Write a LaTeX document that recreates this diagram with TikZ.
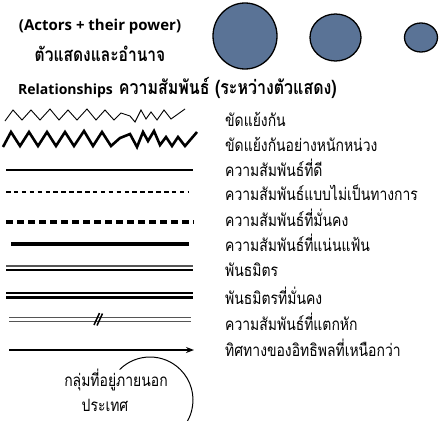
\documentclass[tikz,border=0pt]{standalone}
\usepackage{fontspec}
\setmainfont{Open Sans}
\newfontfamily\thai[Script=Thai,FakeStretch=0.82]{Loma}
\usetikzlibrary{arrows.meta,shapes.geometric}
\definecolor{actorblue}{HTML}{5A7396}
\definecolor{dgray}{HTML}{555555}
\begin{document}
\begin{tikzpicture}[x=1pt,y=-1pt,
  lbl/.style={anchor=west, inner sep=0pt, font=\thai\fontsize{17}{19}\selectfont},
  hdr/.style={inner sep=0pt, font=\bfseries\fontsize{15}{16}\selectfont},
  thhdr/.style={inner sep=0pt, font=\thai\bfseries\fontsize{19}{21}\selectfont},
  actor/.style={draw=black, line width=1.3pt, fill=actorblue, inner sep=0pt, ellipse},
  thinzz/.style={line width=0.9pt, line join=miter},
  thickzz/.style={line width=2.6pt, line join=miter},
  sample/.style={line width=1.2pt}]
\useasboundingbox (0,0) rectangle (441,420);
\fill[white] (0,0) rectangle (441,420);

% headers
\node[hdr] (h1) at (100,27) {(Actors + their power)};
\node[thhdr] (h2) at (100,54) {ตัวแสดงและอำนาจ};
\node[anchor=west, inner sep=0pt] (h3) at (18,88) {{\bfseries\fontsize{14}{15}\selectfont Relationships}\hspace{6pt}{\thai\bfseries\fontsize{19.5}{21}\selectfont ความสัมพันธ์ (ระหว่างตัวแสดง)}};

% actors
\node[actor, minimum width=64pt, minimum height=66pt] (a1) at (245,36) {};
\node[actor, minimum width=51pt, minimum height=47pt] (a2) at (335.5,37.5) {};
\node[actor, minimum width=33pt, minimum height=29pt] (a3) at (421,37.5) {};

% 1 thin zigzag
\draw[thinzz] (5,121) -- (13,110) -- (22,120) -- (31,110) -- (40,120) -- (50,109) -- (59,120) -- (68,110) -- (77,120) -- (87,109) -- (96,120) -- (105,110) -- (114,120) -- (121,113) -- (130,116) -- (135,122) -- (141,110) -- (146,119) -- (151,112) -- (157,120) -- (164,110) -- (171,119) -- (178,114) -- (185,109);
% 2 thick zigzag
\draw[thickzz] (3,147) -- (11,132) -- (20,146) -- (29,132) -- (38,146) -- (47,132) -- (56,146) -- (65,132) -- (74,146) -- (84,131) -- (93,146) -- (102,132) -- (111,146) -- (120,138) -- (130,134) -- (137,147) -- (143,132) -- (148,141) -- (154,131) -- (160,145) -- (166,137) -- (172,146) -- (178,137) -- (185,146) -- (191,139) -- (197,132);
% 3 thin solid
\draw[sample] (6,170) -- (193,170);
% 4 dotted
\draw[line width=1.6pt, dash pattern=on 4.5pt off 3.4pt] (6,192) -- (189,192);
% 5 thick dashed
\draw[line width=3.6pt, dash pattern=on 7pt off 4pt] (6,222) -- (194,222);
% 6 thick solid
\draw[line width=3.8pt] (11,244) -- (189,244);
% 7 double thin
\draw[line width=1.1pt, dgray] (6,266) -- (193,266);
\draw[line width=1.1pt] (6,270) -- (193,270);
% 8 double thick
\draw[line width=2.4pt] (6,292.8) -- (193,292.8);
\draw[line width=2.4pt] (6,297.4) -- (193,297.4);
% 9 broken
\draw[line width=1pt, dgray] (9,317.3) -- (191,317.3);
\draw[line width=1pt, dgray] (9,321.3) -- (191,321.3);
\draw[line width=1.5pt] (94,325) -- (99.5,313);
\draw[line width=1.5pt] (97,325.5) -- (102.5,313.5);
% 10 arrow
\draw[line width=1.5pt, -{Stealth[length=8pt,width=6pt]}] (9,350) -- (194,350);
% 11 external group
\coordinate (ext) at (150,400);
\draw[line width=1pt] (ext) ++(-135:43) arc[start angle=-135, end angle=55, radius=43];
\node[inner sep=0pt, font=\thai\fontsize{17}{19}\selectfont] (g1) at (116,380) {กลุ่มที่อยู่ภายนอก};
\node[inner sep=0pt, font=\thai\fontsize{17}{19}\selectfont] (g2) at (105,405) {ประเทศ};

% labels
\node[lbl] (l1) at (225,119) {ขัดแย้งกัน};
\node[lbl] (l2) at (225,144) {ขัดแย้งกันอย่างหนักหน่วง};
\node[lbl] (l3) at (225,168) {ความสัมพันธ์ที่ดี};
\node[lbl] (l4) at (225,193) {ความสัมพันธ์แบบไม่เป็นทางการ};
\node[lbl] (l5) at (225,218) {ความสัมพันธ์ที่มั่นคง};
\node[lbl] (l6) at (225,243) {ความสัมพันธ์ที่แน่นแฟ้น};
\node[lbl] (l7) at (225,270) {พันธมิตร};
\node[lbl] (l8) at (225,296) {พันธมิตรที่มั่นคง};
\node[lbl] (l9) at (225,322) {ความสัมพันธ์ที่แตกหัก};
\node[lbl] (l10) at (225,348) {ทิศทางของอิทธิพลที่เหนือกว่า};
\end{tikzpicture}
\end{document}
